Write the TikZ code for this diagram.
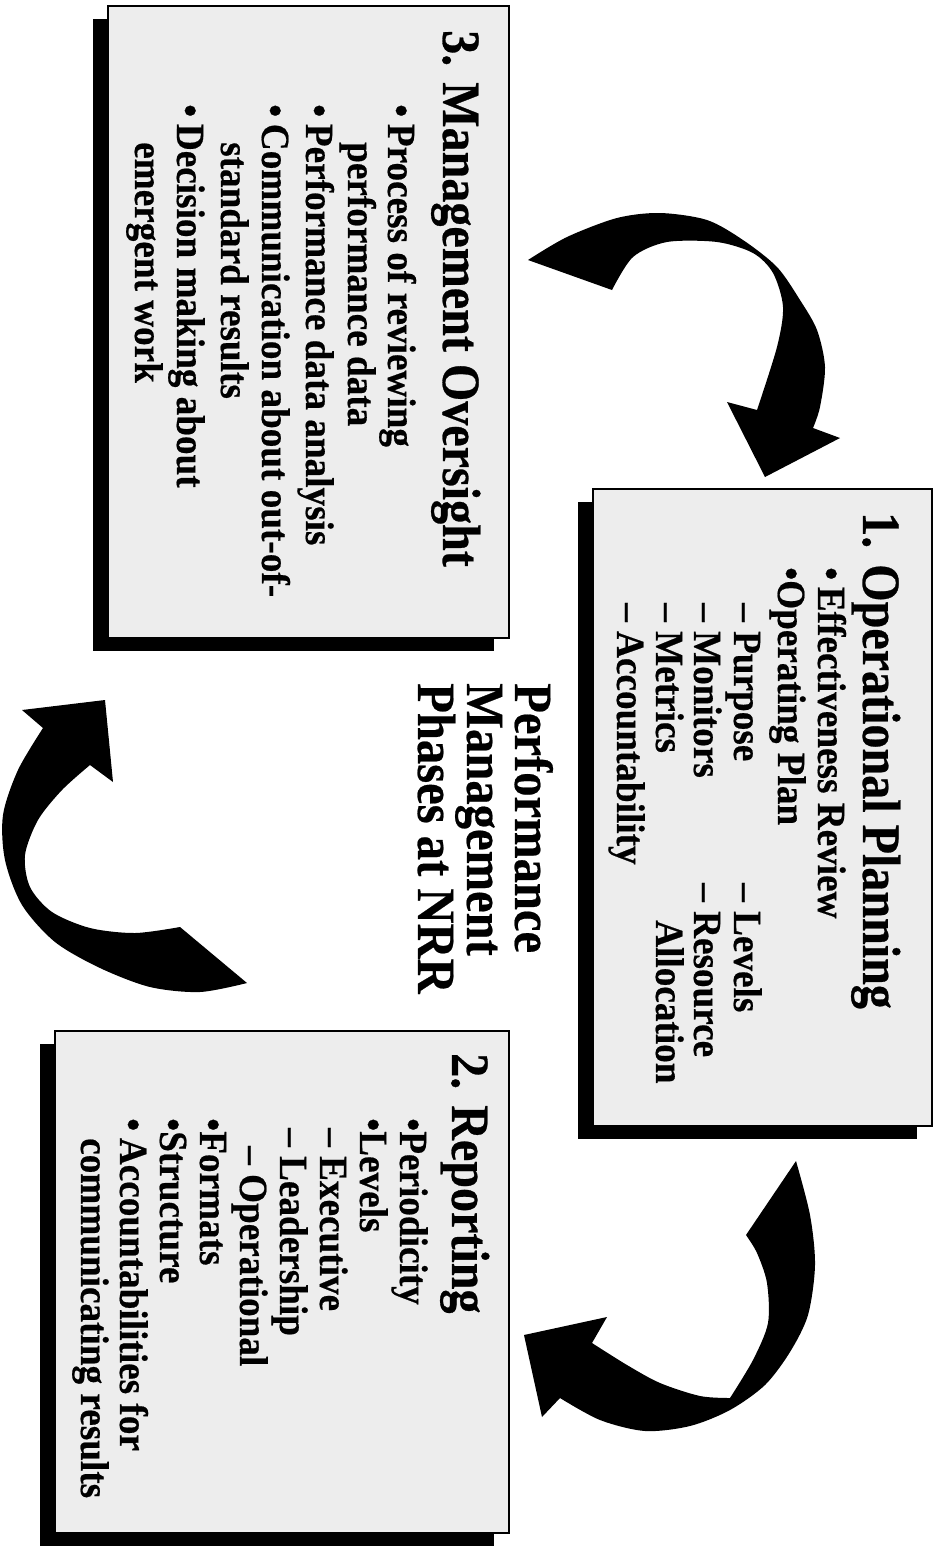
\documentclass[tikz,border=0pt]{standalone}
\usepackage{fontspec}
\setmainfont{Liberation Serif}
\newfontfamily\ctrfont{Liberation Serif}[FakeStretch=0.9, FakeBold=0.4]
\newfontfamily\bodyfont{Liberation Serif}[FakeStretch=0.93, FakeBold=0.5]
\newfontfamily\headfont{Liberation Serif}[FakeStretch=0.89, FakeBold=0.5]
\usetikzlibrary{shadows}
\begin{document}
\begin{tikzpicture}[x=1pt,y=-1pt,
  panel/.style={draw=black, line width=1.8pt, fill=black!7, anchor=north west, inner sep=0pt,
    drop shadow={shadow xshift=-15pt, shadow yshift=-13pt, fill=black, opacity=1}},
  txt/.style={rotate=-90, anchor=base west, inner sep=0pt, font=\bodyfont\bfseries\fontsize{40}{42}\selectfont},
  ttl/.style={txt, font=\headfont\bfseries\fontsize{54}{56}\selectfont},
  ctr/.style={txt, font=\ctrfont\bfseries\fontsize{54}{56}\selectfont},
  arrowfill/.style={fill=black}]
\useasboundingbox (0,0) rectangle (937,1551);

% ---------- panels ----------
\node[panel, minimum width=401pt, minimum height=632pt] (box3) at (107,5) {};
\node[panel, minimum width=339pt, minimum height=637pt] (box1) at (592,488) {};
\node[panel, minimum width=454pt, minimum height=502pt] (box2) at (54,1030) {};

% ---------- box 3 ----------
\node[ttl] (b3t) at (443,30) {3. Management Oversight};
\node[txt] (b3a) at (388,104) {•\,Process of reviewing};
\node[txt] (b3b) at (348,142) {performance data};
\node[txt] (b3c) at (306,104) {•\,Performance data analysis};
\node[txt] (b3d) at (262,104) {•\,Communication about out-of-};
\node[txt] (b3e) at (221,142) {standard results};
\node[txt] (b3f) at (177,104) {•\,Decision making about};
\node[txt] (b3g) at (135,142) {emergent work};

% ---------- box 1 ----------
\node[ttl] (b1t) at (863,512) {1. Operational Planning};
\node[txt] (b1a) at (818,567) {•\,Effectiveness Review};
\node[txt] (b1b) at (778,567) {•Operating Plan};
\node[txt] (b1c) at (734,603) {– Purpose};
\node[txt] (b1d) at (734,883) {– Levels};
\node[txt] (b1e) at (694,603) {– Monitors};
\node[txt] (b1f) at (694,883) {– Resource};
\node[txt] (b1g) at (656,603) {– Metrics};
\node[txt] (b1h) at (656,920) {Allocation};
\node[txt] (b1i) at (617,603) {– Accountability};

% ---------- box 2 ----------
\node[ttl] (b2t) at (452,1053) {2. Reporting};
\node[txt] (b2a) at (400,1118) {•Periodicity};
\node[txt] (b2b) at (360,1118) {•Levels};
\node[txt] (b2c) at (320,1128) {– Executive};
\node[txt] (b2d) at (280,1128) {– Leadership};
\node[txt] (b2e) at (240,1146) {– Operational};
\node[txt] (b2f) at (200,1118) {•Formats};
\node[txt] (b2g) at (160,1118) {•Structure};
\node[txt] (b2h) at (120,1118) {•\,Accountabilities for};
\node[txt] (b2i) at (81,1138) {communicating results};

% ---------- centre title ----------
\node[ctr] (c1) at (515,683) {Performance};
\node[ctr] (c2) at (467,683) {Management};
\node[ctr] (c3) at (418,683) {Phases at NRR};

% ---------- arrows ----------
% top right: from box 3 to box 1
\fill[arrowfill] plot[smooth] coordinates {(528,260) (567,237) (617,218) (660,213) (707,220) (743,240) (777,267) (800,300) (817,330) (825,367) (820,407) (813,428)}
  -- (840,438) -- (765,477) -- (727,402) -- (757,410)
  -- plot[smooth] coordinates {(757,410) (777,347) (783,307) (773,273) (753,253) (717,242) (667,242) (633,257) (612,290)}
  -- cycle;
% bottom right: from box 1 to box 2
\fill[arrowfill] plot[smooth] coordinates {(796,1161) (810,1215) (815,1265) (808,1315) (790,1352) (765,1385) (730,1410) (690,1426) (645,1431) (600,1420) (560,1398)}
  -- (542,1417) -- (524,1335) -- (607,1317) -- (592,1343)
  -- plot[smooth] coordinates {(592,1343) (627,1365) (660,1383) (700,1396) (730,1398)}
  -- plot[smooth] coordinates {(730,1398) (753,1360) (768,1323) (767,1283) (757,1253) (746,1235)}
  -- cycle;
% left: from box 2 to box 3
\fill[arrowfill] plot[smooth] coordinates {(247,983) (200,992) (150,987) (100,968) (55,942) (22,905) (5,860) (3,815) (18,770) (43,728)}
  -- (22,710) -- (105,700) -- (113,782) -- (90,765)
  -- plot[smooth] coordinates {(90,765) (62,790) (38,820) (25,855) (30,887) (52,912) (90,928) (135,933) (180,927)}
  -- cycle;
\end{tikzpicture}
\end{document}
